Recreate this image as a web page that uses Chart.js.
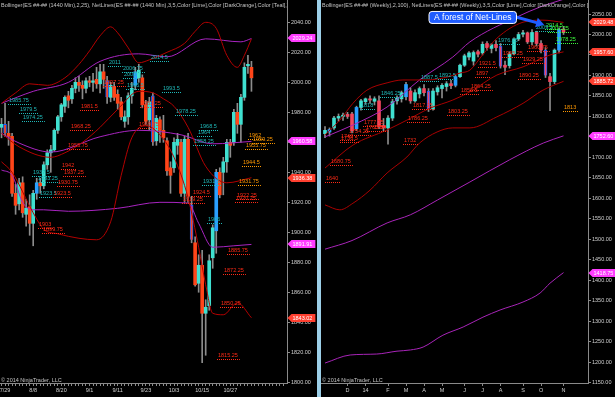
<!DOCTYPE html>
<html>
<head>
<meta charset="utf-8">
<script src="https://cdn.jsdelivr.net/npm/chart.js@4.4.1/dist/chart.umd.min.js"></script>
<style>
  body { margin: 0; background: #000; width: 615px; height: 397px; overflow: hidden; position: relative; }
  #l { position: absolute; left: 0; top: 0; width: 317px; height: 397px; }
  #sep { position: absolute; left: 317px; top: 0; width: 4px; height: 397px; background: #9ccfe8; }
  #r { position: absolute; left: 321px; top: 0; width: 294px; height: 397px; }
</style>
</head>
<body>
<div id="l"><canvas id="cl"></canvas></div>
<div id="sep"></div>
<div id="r"><canvas id="cr"></canvas></div>
<script>
// ---- daily ES (left) ----
const dayOpen  = [1970,1972,1966,1964,1926,1919,1933,1912,1917,1906,1926,1933,1931,1945,1953,1955,1968,1977,1984,1991,
                  1989,1996,2000,1998,1996,2001,2000,2002,1999,2007,2001,1990,1997,1992,1987,1974,1977,1991,1998,2003,
                  2003,1985,1975,1991,1961,1975,1968,1961,1943,1943,1958,1960,1926,1962,1918,1893,1866,1878,1846,1851,
                  1883,1901,1940,1940,1947,1960,1960,1980,1972,1990,2011,2010];
const dayHigh  = [1976,1986,1974,1966,1932,1936,1937,1922,1925,1928,1936,1936,1947,1955,1958,1969,1978,1986,1991,1994,
                  1998,2003,2004,2001,2003,2004,2006,2010,2012,2012,2004,2000,2000,1995,1990,1981,1993,2000,2010,2012,
                  2005,1988,1990,1993,1978,1977,1978,1963,1947,1963,1966,1962,1964,1966,1924,1897,1885,1888,1855,1885,
                  1905,1942,1943,1950,1962,1962,1982,1986,1992,2013,2018,2014];
const dayLow   = [1963,1964,1958,1924,1912,1915,1910,1904,1898,1891,1922,1926,1929,1942,1940,1954,1966,1974,1980,1983,
                  1986,1993,1994,1989,1993,1997,1994,1996,1993,1996,1986,1987,1988,1982,1975,1970,1972,1986,1995,2000,
                  1983,1972,1968,1958,1958,1960,1960,1938,1926,1940,1952,1924,1920,1920,1893,1864,1860,1813,1818,1848,
                  1876,1886,1923,1925,1940,1950,1958,1966,1960,1988,2006,1994];
const dayClose = [1972,1966,1964,1926,1918,1933,1913,1916,1906,1926,1933,1931,1945,1953,1955,1968,1977,1985,1990,1988,
                  1996,2000,1998,1996,2001,2000,2001,1999,2007,2002,1990,1998,1990,1986,1977,1977,1991,1996,2007,2008,
                  1985,1974,1987,1960,1976,1968,1963,1941,1938,1960,1962,1926,1962,1924,1895,1865,1878,1846,1850,1881,
                  1903,1940,1925,1947,1960,1958,1980,1972,1990,2010,2012,2003];
const dayBlue  = [1, 10, 30, 38, 43, 54, 61];
const dayTickSlots = [1, 9, 17, 25, 33, 41, 49, 57, 65];
const dayTickText  = ['7/29', '8/8', '8/20', '9/1', '9/11', '9/23', '10/3', '10/15', '10/27'];
const dayPriceTicks = [1800, 1820, 1840, 1860, 1880, 1900, 1920, 1940, 1960, 1980, 2000, 2020, 2040];

// bollinger 2,25 (dark red) and slow band (purple), read as [bar, price]
const dayRedUp  = [[0,1986],[4,1993],[8,1999],[13,1998],[18,2003],[22,2012],[25,2021],[28,2031],[31,2037],[33,2033],
                   [36,2023],[39,2013],[42,2015],[47,2020],[52,2026],[55,2034],[58,2040],[61,2036],[64,2018],[67,2010],[69,2018],[71,2029]];
const dayRedMid = [[0,1966],[5,1957],[14,1950],[18,1953],[23,1960],[28,1970],[33,1982],[39,1994],[43,1993],[46,1989],
                   [49,1984],[53,1970],[58,1944],[64,1933],[71,1936.4]];
const dayRedLow = [[0,1947],[3,1940],[9,1913],[12,1902],[16,1899],[22,1896],[27,1895],[31,1907],[34,1938],[37,1963],
                   [41,1971],[45,1965],[49,1950],[53,1923],[56,1890],[58,1865],[60,1846],[63,1845],[67,1853],[71,1843]];
const dayPurUp  = [[0,1986],[9,1994],[19,2000],[28,2014],[39,2019],[47,2017],[58,2029],[68,2027],[71,2029.2]];
const dayPurMid = [[0,1966],[5,1959.5],[14,1953.5],[28,1963.7],[39,1968],[51,1965],[60,1959],[71,1960.6]];
const dayPurLow = [[0,1941.5],[3,1938],[6,1920],[9,1915],[12,1915],[19,1914],[33,1916],[45,1920],[53,1919.5],
                   [56,1906],[60,1890],[66,1891],[71,1891.9]];
const dayTags = [[2029.24,'m'],[1960.58,'m'],[1891.91,'m'],[1936.38,'r'],[1843.02,'r']];
const dayNets = [
  [1985.75,1.8,'t'],[1979.5,5,'t'],[1974.25,5.8,'t'],[1937.5,8.7,'t'],[1933.25,10,'t'],[1923.5,10.7,'t'],
  [2011,30.3,'t'],[2006.75,34.2,'t'],[2003,34.5,'t'],[1995.5,35.4,'t'],[2014.5,42.2,'t'],[1993.5,45.6,'t'],
  [1978.25,49.3,'t'],[1968.5,56.1,'t'],[1964,55.5,'t'],[1958.25,54.4,'t'],[1931.5,57,'t'],[1906,58.4,'t'],
  [1981.5,22.3,'r'],[1968.25,19.5,'r'],[1955.75,18.6,'r'],[1942,16.9,'r'],[1937.25,17.5,'r'],[1930.75,15.8,'r'],
  [1923.5,14.6,'r'],[1997.25,28.8,'r'],[1983.25,39.3,'r'],[1969.75,38.8,'r'],[1924.5,54.1,'r'],[1919.25,51.3,'r'],
  [1885.75,64.1,'r'],[1872.25,62.9,'r'],[1850.25,62.1,'r'],[1815.25,61.2,'r'],[1903,10.4,'r'],[1899.75,11.5,'r'],
  [1922.25,66.6,'r'],[1920.25,66.3,'r'],
  [1962,70,'o'],[1959.25,71.2,'o'],[1955.75,69.2,'o'],[1944.5,68.3,'o'],[1931.75,67.2,'o']
];

// ---- weekly ES (right) ----
const wkOpen  = [1758,1762,1772,1796,1800,1805,1806,1770,1822,1836,1843,1837,1838,1778,1772,1796,1838,1843,1848,1862,
                 1838,1855,1868,1862,1818,1860,1868,1873,1880,1876,1897,1925,1945,1935,1958,1955,1978,1966,1976,1972,
                 1925,1924,1953,1989,2001,2004,1982,2005,1978,1962,1897,1885,1962,2013];
const wkHigh  = [1775,1772,1800,1806,1808,1810,1810,1825,1842,1845,1850,1848,1850,1795,1802,1842,1850,1862,1883,1870,
                 1865,1872,1878,1868,1868,1875,1880,1885,1888,1900,1928,1952,1958,1960,1962,1982,1983,1978,1985,1978,
                 1935,1958,1992,2005,2010,2006,2012,2008,1985,1968,1905,1965,2016,2020];
const wkLow   = [1748,1752,1768,1788,1790,1795,1760,1765,1815,1830,1832,1828,1770,1765,1732,1790,1830,1835,1840,1832,
                 1835,1845,1850,1812,1815,1852,1845,1862,1868,1872,1895,1922,1938,1925,1945,1950,1962,1955,1960,1918,
                 1902,1918,1950,1985,1994,1978,1975,1972,1955,1895,1814,1880,1955,2000];
const wkClose = [1766,1768,1796,1800,1803,1800,1765,1822,1838,1843,1840,1843,1775,1772,1796,1836,1845,1858,1878,1838,
                 1858,1868,1858,1818,1862,1870,1876,1880,1875,1897,1925,1948,1955,1956,1952,1976,1968,1975,1968,1922,
                 1920,1952,1988,2000,2004,1982,2005,1978,1962,1900,1885,1962,2012,2005];
const wkBlue  = [1, 7, 18, 23, 29, 39, 49, 52];
const wkTickSlots = [5, 9, 14, 18, 22, 26, 31, 35, 39, 44, 48, 53];
const wkTickText  = ['D', '14', 'F', 'M', 'A', 'M', 'J', 'J', 'A', 'S', 'O', 'N'];
const wkPriceTicks = [1150,1200,1250,1300,1350,1400,1450,1500,1550,1600,1650,1700,1750,1800,1850,1900,1950,2000,2050];

const wkRedUp  = [[0,1755],[3.3,1791],[6.2,1832],[9.3,1864],[13.8,1882],[17.3,1889],[22.7,1889],[27.1,1896],
                  [30,1906],[32.2,1913],[35,1950],[38.2,1991],[44,2030],[48.4,2035],[53,2029.5]];
const wkRedMid = [[0,1674],[6.2,1730],[13.8,1767],[18.2,1791],[23.3,1820],[28.4,1840],[32.2,1860],[38.2,1901],
                  [44,1921],[50,1950],[53,1957.6]];
const wkRedLow = [[0,1584],[3.3,1572],[6.2,1588],[10,1620],[13.8,1662],[18.2,1701],[21,1735],[24.9,1762],
                  [28.4,1772],[32.2,1772],[38.2,1799],[44,1832],[48.4,1864],[53,1885.7]];
const wkPurUp  = [[0,1750],[6.2,1779],[13.8,1823],[21,1889],[28.4,1945],[32.2,1982],[42.7,2043],[48,2068],[53,2086]];
const wkPurMid = [[0,1476],[6,1497],[13.8,1540],[19,1560],[25,1596],[32.2,1640],[41,1694],[48.5,1735],[53,1752.6]];
const wkPurLow = [[0,1198],[5.6,1217.7],[11.5,1220],[16,1227],[19,1230],[21.8,1237],[26.2,1266],[30.7,1286],
                  [35.1,1310],[38.9,1327.5],[44,1347],[47.8,1369],[50,1393],[53,1418.75]];
const wkTags = [[2029.48,'r'],[1957.60,'r'],[1885.72,'r'],[1752.60,'m'],[1418.75,'m']];
const wkNets = [
  [2014.5,48.9,'g'],[2007.25,49.6,'g'],[1978.25,51.1,'g'],
  [2009.5,46.7,'t'],[1976.25,38.2,'t'],[1887.5,21.1,'t'],[1892.5,25.1,'t'],[1846.25,12.2,'t'],[1818,7.8,'t'],
  [1945.25,39.3,'r'],[1960.75,44.9,'r'],[1929.25,43.8,'r'],[1890.25,42.9,'r'],[1921.5,34,'r'],[1897,33.3,'r'],
  [1864.25,32.2,'r'],[1855.5,30,'r'],[1817.25,19.3,'r'],[1803.25,27.1,'r'],[1786.25,18.2,'r'],[1732,17.3,'r'],
  [1777.75,8.4,'r'],[1765.5,8.9,'r'],[1764,10.7,'r'],[1754.25,5.1,'r'],[1743,3.3,'r'],[1736.5,3.3,'r'],
  [1680.75,1.1,'r'],[1640,0,'r'],
  [1813,52.9,'o']
];
const wkNote = { text: 'A forest of Net-Lines', x: 23, y: 2057.5, tipX: 48.7, tipY: 2024 };

const FONT = '"Liberation Sans", Arial, sans-serif';
const netColor = { t: '#1fb8b8', r: '#ff2a16', o: '#ff9800', g: '#3cff3c' };
const tagColor = { m: '#ff3cff', r: '#ff4030' };

function candles(o, h, l, c, blue, down) {
  const idx = o.map((_, i) => i);
  return [
    { type: 'bar', order: 2, grouped: false, barThickness: 1, backgroundColor: '#8c8c8c',
      data: idx.map(i => ({ x: i, y: [l[i], h[i]] })) },
    { type: 'bar', order: 1, grouped: false, barThickness: 3, minBarLength: 1,
      data: idx.map(i => ({ x: i, y: [o[i], c[i]] })),
      backgroundColor: idx.map(i => c[i] >= o[i] ? (blue.includes(i) ? '#2aa0ff' : '#3fe0d0') : down),
      borderColor: idx.map(i => blue.includes(i) ? '#1a5cff' : 'rgba(0,0,0,0)'),
      borderWidth: idx.map(i => blue.includes(i) && c[i] < o[i] ? 1 : 0) }
  ];
}

function band(pts, color) {
  return { type: 'line', order: 0, data: pts.map(([x, y]) => ({ x, y })), borderColor: color,
           borderWidth: 1, pointRadius: 0, cubicInterpolationMode: 'monotone' };
}

function decor(o) {
  return {
    id: 'decor',
    afterDatasetsDraw(chart) {
      const { ctx, chartArea: a, scales: { x, y } } = chart;
      ctx.save();
      ctx.beginPath();
      ctx.rect(a.left, a.top, a.right - a.left, a.bottom - a.top);
      ctx.clip();
      ctx.font = '5.5px ' + FONT;
      ctx.textBaseline = 'bottom';
      ctx.lineWidth = 1;
      o.nets.forEach(([v, s, k]) => {
        const px = Math.round(x.getPixelForValue(s));
        const py = Math.round(y.getPixelForValue(v)) + 0.5;
        const t = String(v);
        const w = ctx.measureText(t).width;
        ctx.fillStyle = ctx.strokeStyle = netColor[k];
        ctx.fillText(t, px + 1, py - 1);
        ctx.setLineDash([1, 1]);
        ctx.beginPath();
        ctx.moveTo(px, py);
        ctx.lineTo(px + w + 3, py);
        ctx.stroke();
      });
      ctx.setLineDash([]);
      ctx.fillStyle = '#c4c4c4';
      ctx.font = '5.5px ' + FONT;
      ctx.textBaseline = 'middle';
      ctx.fillText(o.title, a.left + 1, 5);
      ctx.textBaseline = 'bottom';
      ctx.fillText('\u00a9 2014 NinjaTrader, LLC', a.left + 1, a.bottom);
      ctx.restore();
    },
    afterDraw(chart) {
      const { ctx, chartArea: a, scales: { x, y } } = chart;
      ctx.save();
      ctx.font = '5.5px ' + FONT;
      ctx.textBaseline = 'middle';
      o.tags.forEach(([v, k]) => {
        const py = Math.round(y.getPixelForValue(v));
        const x0 = a.right + 0.5;
        const w = ctx.measureText(v.toFixed(2)).width + 8;
        ctx.fillStyle = tagColor[k];
        ctx.beginPath();
        ctx.moveTo(x0, py);
        ctx.lineTo(x0 + 4, py - 4);
        ctx.lineTo(x0 + w, py - 4);
        ctx.lineTo(x0 + w, py + 4);
        ctx.lineTo(x0 + 4, py + 4);
        ctx.closePath();
        ctx.fill();
        ctx.fillStyle = '#ffffff';
        ctx.fillText(v.toFixed(2), x0 + 5, py + 0.5);
      });
      const n = o.note;
      if (n) {
        ctx.font = '8.5px ' + FONT;
        const bx = x.getPixelForValue(n.x), by = y.getPixelForValue(n.y);
        const bw = ctx.measureText(n.text).width + 10, bh = 12;
        const tx = x.getPixelForValue(n.tipX), ty = y.getPixelForValue(n.tipY);
        // arrow
        ctx.strokeStyle = ctx.fillStyle = '#1f5cff';
        ctx.lineWidth = 3;
        const sx = bx + bw, sy = by + bh / 2;
        const ang = Math.atan2(ty - sy, tx - sx);
        ctx.beginPath();
        ctx.moveTo(sx, sy);
        ctx.lineTo(tx - 6 * Math.cos(ang), ty - 6 * Math.sin(ang));
        ctx.stroke();
        ctx.beginPath();
        ctx.moveTo(tx, ty);
        ctx.lineTo(tx - 8 * Math.cos(ang) + 5 * Math.sin(ang), ty - 8 * Math.sin(ang) - 5 * Math.cos(ang));
        ctx.lineTo(tx - 8 * Math.cos(ang) - 5 * Math.sin(ang), ty - 8 * Math.sin(ang) + 5 * Math.cos(ang));
        ctx.closePath();
        ctx.fill();
        // box
        ctx.lineWidth = 1;
        ctx.strokeStyle = '#ffffff';
        ctx.beginPath();
        ctx.roundRect(bx + 0.5, by + 0.5, bw, bh, 3);
        ctx.fill();
        ctx.stroke();
        ctx.fillStyle = '#ffffff';
        ctx.textBaseline = 'middle';
        ctx.fillText(n.text, bx + 5.5, by + bh / 2 + 1);
      }
      ctx.restore();
    }
  };
}

function makeChart(id, cfg) {
  const tickFont = { family: FONT, size: 5.5 };
  return new Chart(document.getElementById(id), {
    type: 'bar',
    data: {
      datasets: [
        ...candles(cfg.o, cfg.h, cfg.l, cfg.c, cfg.blue, cfg.down),
        ...cfg.bands
      ]
    },
    options: {
      responsive: true,
      maintainAspectRatio: false,
      animation: false,
      events: [],
      layout: { padding: 0 },
      plugins: { legend: { display: false }, tooltip: { enabled: false } },
      scales: {
        x: {
          type: 'linear', min: cfg.xMin, max: cfg.xMax, offset: false,
          afterBuildTicks: s => { s.ticks = cfg.xTickSlots.map(v => ({ value: v })); },
          afterFit: s => { s.height = 14; s.paddingLeft = 0; s.paddingRight = 0; },
          ticks: {
            autoSkip: false, maxRotation: 0, padding: 1, color: '#cfcfcf', font: tickFont,
            callback: v => { const k = cfg.xLabelSlots.indexOf(v); return k < 0 ? '' : cfg.xLabelText[k]; }
          },
          grid: { drawOnChartArea: false, offset: false, tickLength: 3, color: '#8a8a8a' },
          border: { color: '#8a8a8a' }
        },
        y: {
          position: 'right', min: cfg.yMin, max: cfg.yMax,
          afterBuildTicks: s => { s.ticks = cfg.yTicks.map(v => ({ value: v })); },
          afterFit: s => { s.width = cfg.yWidth; s.paddingTop = 0; s.paddingBottom = 0; },
          ticks: { padding: 1, color: '#cfcfcf', font: tickFont, callback: v => v.toFixed(2) },
          grid: { drawOnChartArea: false, tickLength: 3, color: '#8a8a8a' },
          border: { color: '#8a8a8a' }
        }
      }
    },
    plugins: [decor(cfg)]
  });
}

const everyBar = Array.from({ length: 81 }, (_, i) => i);

makeChart('cl', {
  o: dayOpen, h: dayHigh, l: dayLow, c: dayClose, blue: dayBlue, down: '#ff4519',
  bands: [band(dayRedUp, '#b40000'), band(dayRedMid, '#b40000'), band(dayRedLow, '#b40000'),
          band(dayPurUp, '#a824c0'), band(dayPurMid, '#a824c0'), band(dayPurLow, '#a824c0')],
  xMin: -0.43, xMax: 81.1, xTickSlots: everyBar, xLabelSlots: dayTickSlots, xLabelText: dayTickText,
  yMin: 1799.5, yMax: 2054.9, yTicks: dayPriceTicks, yWidth: 30,
  tags: dayTags, nets: dayNets,
  title: 'Bollinger(ES ##-## (1440 Min),2,25), NetLines(ES ##-## (1440 Min),3,5,Color [Lime],Color [DarkOrange],Color [Teal],True)'
});

makeChart('cr', {
  o: wkOpen, h: wkHigh, l: wkLow, c: wkClose, blue: wkBlue, down: '#f2475f',
  bands: [band(wkRedUp, '#a80000'), band(wkRedMid, '#a80000'), band(wkRedLow, '#a80000'),
          band(wkPurUp, '#a824b8'), band(wkPurMid, '#a824b8'), band(wkPurLow, '#a824b8')],
  xMin: -0.89, xMax: 58.44, xTickSlots: wkTickSlots, xLabelSlots: wkTickSlots, xLabelText: wkTickText,
  yMin: 1149.3, yMax: 2084.2, yTicks: wkPriceTicks, yWidth: 27,
  tags: wkTags, nets: wkNets, note: wkNote,
  title: 'Bollinger(ES ##-## (Weekly),2,100), NetLines(ES ##-## (Weekly),3,5,Color [Lime],Color [DarkOrange],Color [Teal],True)'
});
</script>
</body>
</html>
